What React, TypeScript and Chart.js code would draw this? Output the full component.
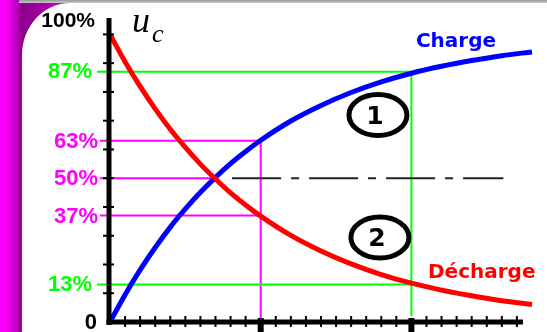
import { useEffect, useRef } from "react";
import { Chart, registerables } from "chart.js";

Chart.register(...registerables);

// time in units of tau
const timeTau = [0, 0.1, 0.2, 0.3, 0.4, 0.5, 0.6, 0.7, 0.8, 0.9, 1.0, 1.2, 1.4, 1.6, 1.8, 2.0, 2.2, 2.4, 2.6, 2.8];
// charge curve (% of final voltage)
const chargePct = [0, 9.5, 18.1, 25.9, 33.0, 39.3, 45.1, 50.3, 55.1, 59.3, 63.2, 69.9, 75.3, 79.8, 83.5, 86.5, 88.9, 90.9, 92.6, 93.9];
// discharge curve (% of initial voltage)
const dechargePct = [100, 90.5, 81.9, 74.1, 67.0, 60.7, 54.9, 49.7, 44.9, 40.7, 36.8, 30.1, 24.7, 20.2, 16.5, 13.5, 11.1, 9.1, 7.4, 6.1];

// y axis labels
const yLabelTexts = ["0", "13%", "37%", "50%", "63%", "87%", "100%"];
const yLabelValues = [0, 13, 37, 50, 63, 87, 100];
const yMinorTicks = [10, 20, 30, 40, 50, 60, 70, 80, 90, 100];
// x axis ticks (tau)
const xMinorTicks = [0.1, 0.2, 0.3, 0.4, 0.5, 0.6, 0.7, 0.8, 0.9, 1.1, 1.2, 1.3, 1.4, 1.5, 1.6, 1.7, 1.8, 1.9, 2.1, 2.2, 2.3, 2.4, 2.5, 2.6, 2.7];
const xMajorTicks = [1, 2];

// reference levels
const tau1Levels = [63, 37];
const tau2Levels = [87, 13];
const halfLevel = 50;
const halfCrossTau = 0.69;
const dashStartTau = 0.81;
const dashEndTau = 2.61;

const MAGENTA = "#ff00ff";
const GREEN = "#00ff00";
const BLUE = "#0000ff";
const RED = "#ff0000";

const overlay = {
  id: "overlay",
  beforeDatasetsDraw(chart: any) {
    const { ctx, scales } = chart;
    const X = (v: number) => scales.x.getPixelForValue(v);
    const Y = (v: number) => scales.y.getPixelForValue(v);
    const x0 = X(0);
    const line = (a: number, b: number, c: number, d: number) => {
      ctx.beginPath();
      ctx.moveTo(a, b);
      ctx.lineTo(c, d);
      ctx.stroke();
    };
    ctx.save();
    ctx.lineCap = "butt";
    ctx.lineWidth = 2;
    // magenta
    ctx.strokeStyle = MAGENTA;
    for (const v of tau1Levels) line(x0 - 10, Y(v), X(1), Y(v));
    line(X(1), Y(tau1Levels[0]), X(1), Y(0));
    line(x0 - 10, Y(halfLevel), X(halfCrossTau), Y(halfLevel));
    // green
    ctx.strokeStyle = GREEN;
    for (const v of tau2Levels) line(x0 - 13, Y(v), X(2), Y(v));
    line(X(2), Y(tau2Levels[0]), X(2), Y(0) - 6);
    // dash-dot
    ctx.strokeStyle = "#222";
    ctx.setLineDash([49, 10, 8, 10]);
    line(X(dashStartTau), Y(halfLevel), X(dashEndTau), Y(halfLevel));
    ctx.setLineDash([]);
    ctx.restore();
  },
  afterDatasetsDraw(chart: any) {
    const { ctx, scales, chartArea } = chart;
    const X = (v: number) => scales.x.getPixelForValue(v);
    const Y = (v: number) => scales.y.getPixelForValue(v);
    const x0 = X(0);
    const y0 = Y(0);
    ctx.save();
    ctx.fillStyle = "#000";
    // y axis
    ctx.fillRect(x0 - 3.5, chartArea.top, 5, y0 + 3 - chartArea.top);
    for (const v of yMinorTicks) ctx.fillRect(x0 - 7, Y(v) - 1, 11, 2);
    // x axis
    ctx.fillRect(x0 - 3.5, y0 - 2.5, X(2.74) - x0 + 3.5, 5);
    for (const t of xMinorTicks) ctx.fillRect(X(t) - 1, y0 - 6, 2, 11);
    for (const t of xMajorTicks) ctx.fillRect(X(t) - 3, y0 - 4, 6, 16);

    // y labels
    ctx.font = 'bold 22px "Liberation Sans", Arial, sans-serif';
    ctx.textAlign = "right";
    ctx.textBaseline = "alphabetic";
    yLabelTexts.forEach((txt, i) => {
      const v = yLabelValues[i];
      let color = "#000";
      let right = x0 - 12;
      let by = Y(v) + 7;
      if (v === 87 || v === 13) { color = GREEN; right = x0 - 18; by = Y(v) + 6; }
      else if (v === 63 || v === 50 || v === 37) { color = MAGENTA; right = x0 - 12; by = Y(v) + 7; }
      else if (v === 100) { right = x0 - 15; by = Y(v) - 7; ctx.font = 'bold 21px "Liberation Sans", Arial, sans-serif'; }
      else if (v === 0) { right = x0 - 13; by = Y(v) + 7; }
      ctx.fillStyle = color;
      ctx.fillText(txt, right, by);
      ctx.font = 'bold 22px "Liberation Sans", Arial, sans-serif';
    });

    // u_c
    ctx.fillStyle = "#000";
    ctx.textAlign = "left";
    ctx.font = 'italic 36px "Liberation Serif", "DejaVu Serif", serif';
    ctx.fillText("u", x0 + 22, chartArea.top + 14);
    ctx.font = 'italic 26px "Liberation Serif", "DejaVu Serif", serif';
    ctx.fillText("c", x0 + 42, chartArea.top + 24);

    // curve names
    ctx.font = 'bold 20px "DejaVu Sans", Verdana, sans-serif';
    ctx.fillStyle = BLUE;
    ctx.fillText("Charge", X(2.03), Y(95.5));
    ctx.fillStyle = RED;
    ctx.fillText("Décharge", X(2.11), Y(15.3));

    // numbered ellipses
    const marks = [
      { t: 1.778, v: 72.0, label: "1" },
      { t: 1.791, v: 29.4, label: "2" },
    ];
    ctx.strokeStyle = "#000";
    ctx.lineWidth = 5;
    ctx.font = 'bold 25px "DejaVu Sans", Verdana, sans-serif';
    ctx.textAlign = "center";
    for (const m of marks) {
      const cx = X(m.t);
      const cy = Y(m.v);
      ctx.beginPath();
      ctx.ellipse(cx, cy, 29, 20.5, 0, 0, Math.PI * 2);
      ctx.stroke();
      ctx.fillStyle = "#000";
      ctx.fillText(m.label, cx - 3, cy + 9);
    }
    ctx.restore();
  },
};

export default function App() {
  const canvasRef = useRef<HTMLCanvasElement | null>(null);

  useEffect(() => {
    if (!canvasRef.current) return;
    const chart = new Chart(canvasRef.current, {
      type: "line",
      data: {
        datasets: [
          {
            label: "Décharge",
            data: timeTau.map((t, i) => ({ x: t, y: dechargePct[i] })),
            borderColor: RED,
            borderWidth: 5,
            pointRadius: 0,
            tension: 0.4,
            cubicInterpolationMode: "monotone",
            borderCapStyle: "butt",
            clip: false,
          } as any,
          {
            label: "Charge",
            data: timeTau.map((t, i) => ({ x: t, y: chargePct[i] })),
            borderColor: BLUE,
            borderWidth: 5,
            pointRadius: 0,
            tension: 0.4,
            cubicInterpolationMode: "monotone",
            borderCapStyle: "butt",
            clip: false,
          } as any,
        ],
      },
      options: {
        animation: false,
        responsive: false,
        events: [],
        layout: { padding: { left: 110, right: 9, top: 18, bottom: 10 } },
        plugins: { legend: { display: false }, tooltip: { enabled: false }, title: { display: false } },
        scales: {
          x: { type: "linear", min: 0, max: 2.84, display: false },
          y: { type: "linear", min: 0, max: 105.7, display: false },
        },
      },
      plugins: [overlay],
    });
    return () => chart.destroy();
  }, []);

  return (
    <div
      style={{
        position: "absolute",
        left: 0,
        top: 0,
        width: 547,
        height: 332,
        overflow: "hidden",
        background:
          "linear-gradient(to right, #ff00ff 0px, #f200f2 8px, #c000c0 16px, #8e008e 22px, #990099 35px, #b800b8 55px, #cc00cc 72px)",
      }}
    >
      <div
        style={{
          position: "absolute",
          left: 19,
          top: 0,
          width: 528,
          height: 3,
          background: "linear-gradient(to bottom, #9a9a9a, #c8c8c8)",
        }}
      />
      <div
        style={{
          position: "absolute",
          left: 22,
          top: 3,
          right: 0,
          bottom: 0,
          background: "#ffffff",
          borderTopLeftRadius: "48px 52px",
        }}
      />
      <canvas
        ref={canvasRef}
        width={547}
        height={332}
        style={{ position: "absolute", left: 0, top: 0 }}
      />
    </div>
  );
}
